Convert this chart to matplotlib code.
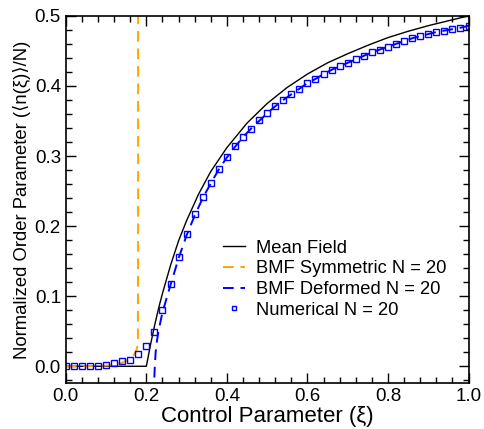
import matplotlib
matplotlib.use("Agg")
import matplotlib.pyplot as plt
from matplotlib.ticker import MultipleLocator

plt.rcParams['font.family'] = ['Liberation Sans', 'DejaVu Sans']

# Mean field
mf_x = [0.0, 0.20, 0.21, 0.22, 0.23, 0.24, 0.26, 0.28, 0.30, 0.33, 0.36, 0.40, 0.45,
        0.50, 0.55, 0.60, 0.65, 0.70, 0.75, 0.80, 0.85, 0.90, 0.95, 1.00]
mf_y = [0.0, 0.0, 0.030, 0.057, 0.082, 0.104, 0.144, 0.179, 0.208, 0.246, 0.278, 0.312, 0.347,
        0.375, 0.398, 0.417, 0.433, 0.446, 0.458, 0.469, 0.478, 0.486, 0.493, 0.500]

# BMF symmetric N = 20
sym_x = [0.0, 0.04, 0.08, 0.10, 0.12, 0.14, 0.16, 0.17, 0.175, 0.179, 0.1795, 0.1795]
sym_y = [0.0, 0.0, 0.0005, 0.001, 0.002, 0.005, 0.011, 0.017, 0.023, 0.030, 0.20, 0.60]

# BMF deformed N = 20
def_x = [0.2190, 0.2195, 0.221, 0.223, 0.226, 0.230, 0.24, 0.26, 0.28, 0.30, 0.32, 0.34, 0.36,
         0.38, 0.40, 0.42, 0.44, 0.46, 0.48, 0.50, 0.52, 0.54, 0.56, 0.58, 0.60, 0.62, 0.64,
         0.66, 0.68, 0.70, 0.72, 0.74, 0.76, 0.78, 0.80, 0.82, 0.84, 0.86, 0.88, 0.90, 0.92,
         0.94, 0.96, 0.98, 1.00]
def_y = [-0.10, -0.02, 0.0, 0.020, 0.035, 0.050, 0.077, 0.116, 0.154, 0.187, 0.215, 0.240, 0.261,
         0.281, 0.298, 0.313, 0.327, 0.339, 0.350, 0.361, 0.371, 0.380, 0.388, 0.396, 0.404,
         0.410, 0.417, 0.423, 0.428, 0.433, 0.438, 0.443, 0.448, 0.452, 0.456, 0.460, 0.464,
         0.468, 0.471, 0.474, 0.477, 0.479, 0.481, 0.483, 0.486]

# Numerical N = 20
num_x = [0.00, 0.02, 0.04, 0.06, 0.08, 0.10, 0.12, 0.14, 0.16, 0.18, 0.20, 0.22, 0.24, 0.26,
         0.28, 0.30, 0.32, 0.34, 0.36, 0.38, 0.40, 0.42, 0.44, 0.46, 0.48, 0.50, 0.52, 0.54,
         0.56, 0.58, 0.60, 0.62, 0.64, 0.66, 0.68, 0.70, 0.72, 0.74, 0.76, 0.78, 0.80, 0.82,
         0.84, 0.86, 0.88, 0.90, 0.92, 0.94, 0.96, 0.98, 1.00]
num_y = [0.000, 0.000, 0.000, 0.0005, 0.001, 0.002, 0.004, 0.007, 0.0095, 0.017, 0.029, 0.049,
         0.080, 0.118, 0.156, 0.189, 0.217, 0.241, 0.262, 0.282, 0.299, 0.314, 0.327, 0.339,
         0.351, 0.361, 0.371, 0.380, 0.389, 0.396, 0.404, 0.410, 0.417, 0.423, 0.428, 0.433,
         0.438, 0.443, 0.448, 0.452, 0.456, 0.460, 0.464, 0.468, 0.471, 0.474, 0.477, 0.479,
         0.481, 0.483, 0.486]

fig = plt.figure(figsize=(4.84, 4.29), dpi=100)
ax = fig.add_axes([0.136, 0.107, 0.832, 0.856])

ax.plot(mf_x, mf_y, color='black', lw=1.0, label='Mean Field')
ax.plot(sym_x, sym_y, color='orange', lw=1.4, ls=(0, (5.5, 3.5)), label='BMF Symmetric N = 20')
ax.plot(def_x, def_y, color='blue', lw=1.4, ls=(0, (5.5, 3.5)), label='BMF Deformed N = 20')
ax.plot(num_x, num_y, ls='none', marker='s', ms=5, mfc='none', mec='blue', mew=1.0,
        label='Numerical N = 20')

ax.set_xlim(0, 1.0)
ax.set_ylim(-0.024, 0.5)
ax.xaxis.set_major_locator(MultipleLocator(0.2))
ax.xaxis.set_minor_locator(MultipleLocator(0.04))
ax.yaxis.set_major_locator(MultipleLocator(0.1))
ax.yaxis.set_minor_locator(MultipleLocator(0.02))
ax.xaxis.set_major_formatter(matplotlib.ticker.FormatStrFormatter('%.1f'))
ax.yaxis.set_major_formatter(matplotlib.ticker.FormatStrFormatter('%.1f'))
ax.tick_params(which='both', direction='in', top=True, right=True, labelsize=13.5, width=1.0)
ax.tick_params(which='major', length=7)
ax.tick_params(which='minor', length=4)
for s in ax.spines.values():
    s.set_linewidth(1.2)

ax.set_xlabel('Control Parameter (ξ)', fontsize=16, labelpad=1)
ax.set_ylabel('Normalized Order Parameter (⟨n(ξ)⟩/N)', fontsize=13.3, labelpad=3)

ax.legend(loc='center left', bbox_to_anchor=(0.39, 0.283), frameon=False, fontsize=13.2,
          handlelength=1.2, handletextpad=0.6, borderpad=0, borderaxespad=0,
          labelspacing=0.2, markerscale=0.7)

fig.savefig('out.png', dpi=100)
